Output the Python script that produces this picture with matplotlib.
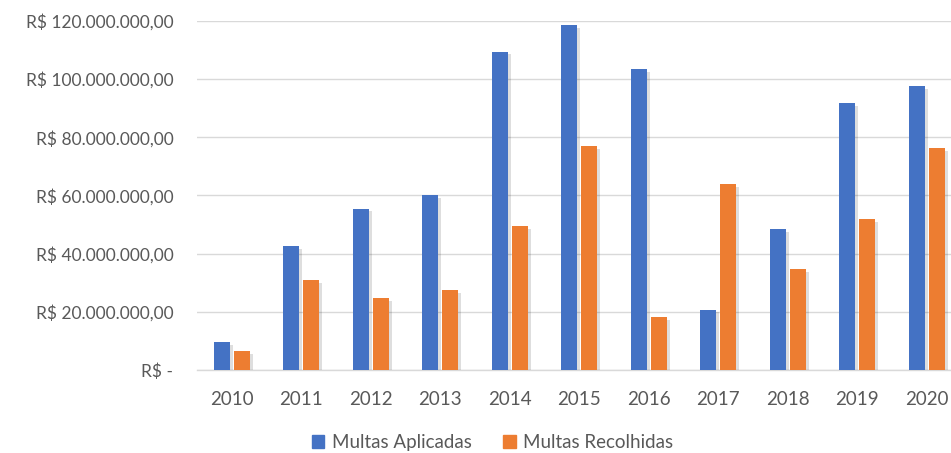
import matplotlib

matplotlib.use("Agg")
import matplotlib.pyplot as plt
import matplotlib.patheffects as pe
from matplotlib.patches import Patch
import numpy as np
from matplotlib.ticker import FuncFormatter

# ---- Data (R$) ----
years = ["2010", "2011", "2012", "2013", "2014", "2015", "2016", "2017", "2018", "2019", "2020"]
aplicadas = [9.5e6, 42.5e6, 55.5e6, 60.0e6, 109.5e6, 118.5e6, 103.5e6, 20.8e6, 48.4e6, 91.9e6, 97.6e6]
recolhidas = [6.4e6, 30.8e6, 24.6e6, 27.4e6, 49.5e6, 77.0e6, 18.3e6, 63.9e6, 34.7e6, 51.9e6, 76.3e6]

# ---- Design tokens ----
W_PX, H_PX = 951, 453
DPI = 100
BLUE = "#4472C4"
ORANGE = "#ED7D31"
GRID = "#D9D9D9"
TXT = "#595959"
FONT = ["Lato", "DejaVu Sans"]

plt.rcParams["font.family"] = FONT

fig = plt.figure(figsize=(W_PX / DPI, H_PX / DPI), dpi=DPI, facecolor="white")
# plot area runs past the right edge, as in the cropped reference
cat_w = 69.5
left, bottom, top = 197, 370, 21
ax = fig.add_axes([left / W_PX, 1 - bottom / H_PX,
                   len(years) * cat_w / W_PX, (bottom - top) / H_PX])

x = np.arange(len(years))
bw = 0.23
off = 0.144
shadow = [pe.SimplePatchShadow(offset=(2, -2), shadow_rgbFace="#000000", alpha=0.13), pe.Normal()]
b1 = ax.bar(x - off, aplicadas, bw, color=BLUE, zorder=3)
b2 = ax.bar(x + off, recolhidas, bw, color=ORANGE, zorder=3)
for b in list(b1) + list(b2):
    b.set_path_effects(shadow)

ax.set_xlim(-0.5, len(years) - 0.5)
ax.set_ylim(0, 120e6)
ax.set_yticks(np.arange(0, 120e6 + 1, 20e6))


def brl(v, _):
    if v == 0:
        return "R$ -"
    s = f"{v:,.2f}".replace(",", "X").replace(".", ",").replace("X", ".")
    return "R$ " + s


ax.yaxis.set_major_formatter(FuncFormatter(brl))
ax.set_xticks(x)
ax.set_xticklabels(years)
ax.tick_params(axis="y", length=0, labelsize=12.5, labelcolor=TXT, pad=17)
ax.tick_params(axis="x", length=0, labelsize=13.5, labelcolor=TXT, pad=15)

ax.grid(axis="y", color=GRID, linewidth=1, zorder=0)
for s in ("left", "right", "top"):
    ax.spines[s].set_visible(False)
ax.spines["bottom"].set_color(GRID)
ax.spines["bottom"].set_linewidth(1)

# legend swatches without the bar shadow
handles = [Patch(color=BLUE, label="Multas Aplicadas"),
           Patch(color=ORANGE, label="Multas Recolhidas")]
fig.legend(handles=handles, loc="lower center", bbox_to_anchor=(0.518, 0.0),
           borderaxespad=0.05, borderpad=0.05,
           ncol=2, frameon=False, fontsize=13.5, labelcolor=TXT,
           handlelength=0.65, handleheight=0.65, handletextpad=0.4, columnspacing=1.7)

fig.savefig("out.png", dpi=DPI, facecolor="white")
plt.close(fig)
